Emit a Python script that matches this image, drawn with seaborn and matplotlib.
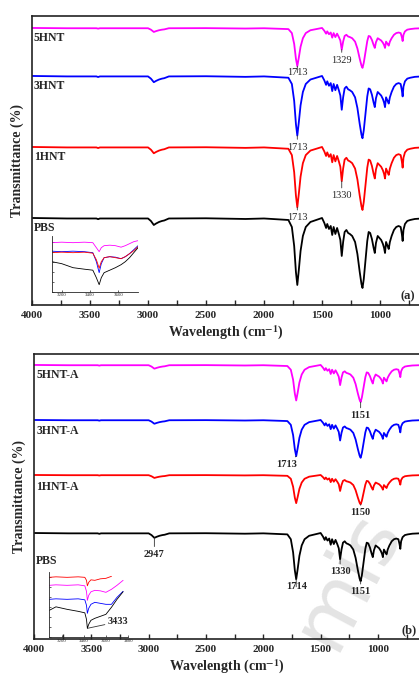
import numpy as np
import pandas as pd
import matplotlib
matplotlib.use("Agg")
import matplotlib.pyplot as plt
from matplotlib.ticker import MultipleLocator
import seaborn as sns

# ---------------------------------------------------------------
# data (FTIR spectra, stacked)
# ---------------------------------------------------------------

# wavenumbers (cm-1) of the key points of the spectra
wavenumber = [4000, 3700, 3445, 3430, 3415, 3000, 2975, 2950, 2930, 2905,
              2880, 2860, 2820, 2500, 2160, 2000, 1790, 1760, 1740, 1725,
              1713, 1700, 1685, 1665, 1640, 1600, 1500, 1480, 1465, 1455,
              1440, 1425, 1412, 1400, 1385, 1370, 1355, 1342, 1330, 1318,
              1305, 1290, 1275, 1260, 1240, 1215, 1195, 1175, 1160, 1151,
              1140, 1125, 1110, 1098, 1085, 1070, 1055, 1045, 1035, 1020,
              1005, 990, 975, 965, 957, 948, 935, 925, 915, 900,
              880, 860, 840, 822, 812, 805, 798, 785, 765, 740,
              700, 640]

# band depth of neat PBS (arbitrary units, 1151 band = 70)
band_depth = [0, 0.5, 0.5, 1.2, 0.5, 0.5, 3, 7, 5.5, 4,
              3, 2.5, 0.5, 0.3, 1, 0.5, 2, 9, 28, 54,
              67, 52, 33, 18, 9, 4, 0, 5, 10, 6,
              11, 8, 17, 9, 16, 10, 16, 22, 38, 24,
              14, 12, 15, 16, 18, 24, 36, 54, 66, 70,
              61, 42, 23, 14, 15, 21, 30, 35, 25, 18,
              20, 22, 26, 30, 35, 24, 28, 31, 24, 18,
              12, 9, 8, 9, 16, 23, 12, 6, 3, 2,
              1, 0.5]

samples_a = ["5HNT", "3HNT", "1HNT", "PBS"]
intensity_a = [0.57, 0.89, 0.90, 1.0]
samples_b = ["5HNT-A", "3HNT-A", "1HNT-A", "PBS"]
intensity_b = [0.53, 0.54, 0.42, 0.69]
colors = ["#ff00ff", "#0000ff", "#ff0000", "#000000"]

# peak labels: (sample index, wavenumber, text)
peaks_a = [(0, 1713, "1713"), (0, 1330, "1329"), (1, 1713, "1713"),
           (2, 1330, "1330"), (2, 1713, "1713")]
peaks_b = [(0, 1151, "1151"), (1, 1713, "1713"), (2, 1151, "1150"),
           (3, 2950, "2947"), (3, 1713, "1714"), (3, 1330, "1330"),
           (3, 1151, "1151")]

# insets: O-H stretching region
inset_a_wn = [3130, 3200, 3280, 3360, 3420, 3445, 3465, 3480, 3500, 3540,
              3580, 3620, 3650, 3680, 3710, 3740]
inset_a_5hnt = [49, 49.5, 49, 49.5, 49, 44, 40, 44, 46, 46.5, 46, 44.5, 46, 48, 50, 51]
inset_a_3hnt = [40.5, 40, 40.5, 40, 39, 30, 19, 28, 34, 35, 34.5, 33, 35, 38, 42, 46]
inset_a_1hnt = [39, 39.5, 39, 39.5, 38.5, 32, 23.5, 30, 34, 35, 34, 33, 35, 38, 41, 45]
inset_a_pbs = [30, 28, 24, 22.5, 21.5, 14, 7, 14, 19, 21.5, 24, 27, 30, 34, 39, 44]

inset_b_wn = [3090, 3150, 3250, 3350, 3410, 3425, 3433, 3445, 3465, 3500,
              3550, 3600, 3650, 3700, 3755]
inset_b_1hnt = [60, 60.5, 60, 60.5, 60, 57, 51.5, 55, 57.5, 57, 58.5, 59, 61, np.nan, np.nan]
inset_b_5hnt = [52, 52.5, 52, 52.5, 51.5, 46, 37, 42, 45.5, 47, 46.5, 45, 48, 52, 57]
inset_b_3hnt = [38, 38.5, 38, 38.5, 37.5, 32, 24, 29, 33, 35, 34, 33, 33, 40, 46]
inset_b_pbs = [27, 30.5, 28, 26, 24.5, 18, 9, 13, 17, 19, 21, 23, 30, 38, 45.6]

# ---------------------------------------------------------------
# style
# ---------------------------------------------------------------
sns.set_style("ticks")
plt.rcParams["font.family"] = ["Liberation Serif", "DejaVu Serif"]
plt.rcParams["mathtext.fontset"] = "stix"

fig = plt.figure(figsize=(4.19, 6.82), dpi=100)

PX = 0.72  # points per pixel


def spectra_panel(ax, samples, intensity, baselines, xmax_right):
    rows = []
    for j, (name, k, base) in enumerate(zip(samples, intensity, baselines)):
        for w, d in zip(wavenumber, band_depth):
            rows.append({"wavenumber": w, "T": base - k * d, "sample": f"{j}{name}"})
    df = pd.DataFrame(rows)
    sns.lineplot(data=df, x="wavenumber", y="T", hue="sample",
                 palette=colors, legend=False, estimator=None, sort=False,
                 lw=1.3, ax=ax)
    ax.set_xlim(4000, xmax_right)
    ax.patch.set_alpha(0)
    ax.xaxis.set_major_locator(MultipleLocator(500))
    ax.xaxis.set_minor_locator(MultipleLocator(250))
    ax.tick_params(axis="x", which="both", direction="in", length=3.5,
                   width=1, labelsize=8, pad=4)
    ax.tick_params(axis="y", left=False, labelleft=False)
    for lab in ax.get_xticklabels():
        lab.set_fontweight("bold")
    ax.spines["right"].set_visible(False)
    for s in ["left", "top", "bottom"]:
        ax.spines[s].set_linewidth(1.2)
        ax.spines[s].set_color("#222222")
    ax.set_xlabel(r"Wavelength (cm$^{\mathbf{-1}}$)", fontsize=10,
                  fontweight="bold", labelpad=3)
    ax.set_ylabel("Transmittance (%)", fontsize=10, fontweight="bold",
                  labelpad=6)


def depth_at(w):
    return band_depth[wavenumber.index(w)]


# watermark (behind everything)
fig.text(0.83, 0.15, "mis", fontsize=58, color="#e4e4e4", rotation=62,
         ha="center", va="center", family="DejaVu Sans", zorder=-5)

# ---------------- panel (a) ----------------
ax1 = fig.add_axes([0.0764, 0.5528, 0.9236, 0.4238])
base_a = [277, 229, 158, 87]
spectra_panel(ax1, samples_a, intensity_a, base_a, 664)
ax1.set_ylim(0, 289)
for name, base in zip(samples_a, base_a):
    ax1.text(3985, base - 4, name, fontsize=8.5, fontweight="bold",
             ha="left", va="top")
gap_a = [2, 6, 7, 10, 6]
for (i, w, t), g in zip(peaks_a, gap_a):
    y = base_a[i] - intensity_a[i] * depth_at(w)
    ax1.annotate(t, xy=(w, y), xytext=(0, -g * PX), textcoords="offset points",
                 ha="center", va="top", fontsize=7.5,
                 arrowprops=dict(arrowstyle="-", lw=0.6, color="#333333",
                                 shrinkA=0, shrinkB=0))
ax1.text(759, 9, "(a)", fontsize=9, fontweight="bold", ha="center", va="center")

ins1 = fig.add_axes([0.1234, 0.5723, 0.206, 0.0817])
for vals, c in zip([inset_a_5hnt, inset_a_3hnt, inset_a_1hnt, inset_a_pbs], colors):
    sns.lineplot(x=inset_a_wn, y=vals, color=c, lw=0.6, estimator=None,
                 sort=False, ax=ins1)
ins1.set_xlim(3129, 3740)
ins1.set_ylim(0, 55.7)

# ---------------- panel (b) ----------------
ax2 = fig.add_axes([0.0811, 0.063, 0.9189, 0.418])
base_b = [274, 219, 164, 106]
spectra_panel(ax2, samples_b, intensity_b, base_b, 642)
ax2.set_ylim(0, 285)
lab_gap_b = [4, 5, 6, 22]
for name, base, g in zip(samples_b, base_b, lab_gap_b):
    ax2.text(3980, base - g, name, fontsize=8.5, fontweight="bold",
             ha="left", va="top")
gap_b = [9, 4, 4, 12, 3, 8, 6]
for (i, w, t), g in zip(peaks_b, gap_b):
    y = base_b[i] - intensity_b[i] * depth_at(w)
    dx = -10 if (i == 1) else 0
    ax2.annotate(t, xy=(w, y), xytext=(dx * PX, -g * PX),
                 textcoords="offset points", ha="center", va="top",
                 fontsize=7.5, fontweight="bold",
                 arrowprops=dict(arrowstyle="-", lw=0.6, color="#333333",
                                 shrinkA=0, shrinkB=0))
ax2.text(731, 9, "(b)", fontsize=9, fontweight="bold", ha="center", va="center")

ins2 = fig.add_axes([0.1177, 0.0655, 0.188, 0.0953])
for vals, c in zip([inset_b_1hnt, inset_b_5hnt, inset_b_3hnt, inset_b_pbs],
                   ["#ff0000", "#ff00ff", "#0000ff", "#000000"]):
    sns.lineplot(x=inset_b_wn, y=vals, color=c, lw=0.6, estimator=None,
                 sort=False, ax=ins2)
ins2.set_xlim(3090, 3800)
ins2.set_ylim(0, 65)
ins2.annotate("3433", xy=(3433, 9), xytext=(3620, 15.6), ha="left",
              va="center", fontsize=7.5, fontweight="bold",
              annotation_clip=False,
              arrowprops=dict(arrowstyle="-", lw=0.6, color="#333333",
                              shrinkA=0, shrinkB=0))

for ins in [ins1, ins2]:
    sns.despine(ax=ins)
    ins.patch.set_alpha(0)
    ins.xaxis.set_major_locator(MultipleLocator(200))
    ins.yaxis.set_major_locator(MultipleLocator(10))
    ins.tick_params(direction="in", length=1.5, width=0.5, labelsize=3.5, pad=1)
    ins.tick_params(axis="y", labelleft=False)
    for s in ["left", "bottom"]:
        ins.spines[s].set_linewidth(0.6)

fig.patch.set_facecolor("white")
fig.savefig("out.png", dpi=100, facecolor="white")
